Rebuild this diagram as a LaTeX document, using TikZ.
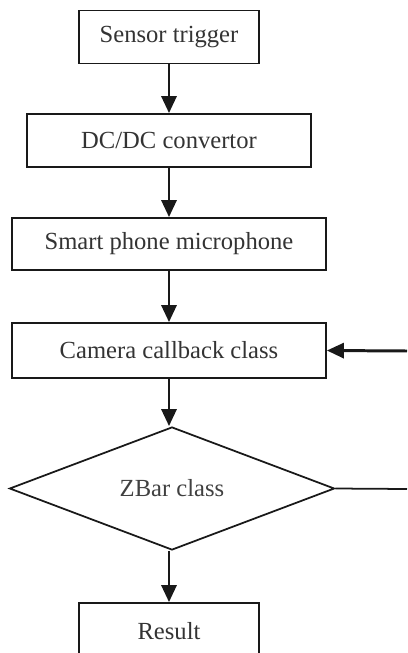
\documentclass[tikz,border=0pt]{standalone}
\usepackage{fontspec}
\setmainfont{Liberation Serif}
\usetikzlibrary{shapes.geometric,arrows.meta}
\tikzset{
	blk/.style={draw=black!90,line width=1pt,minimum height=53*0.02cm,inner sep=0pt,text=black!80,font=\fontsize{14}{16}\selectfont},
	dec/.style={draw=black!90,line width=1pt,diamond,inner sep=0pt,text=black!75,font=\fontsize{14}{16}\selectfont},
	flow/.style={->,line width=1.7pt,black!90}
}
\begin{document}
\begin{tikzpicture}[>={Triangle[length=0.34cm,width=0.3cm]},x=0.02cm,y=-0.02cm]
	\useasboundingbox (0,0) rectangle (407,653);
	\clip (0,0) rectangle (407,653);
	% boxes
	\node[blk,minimum width=180*0.02cm] (st) at (169,37) {Sensor trigger};
	\node[blk,minimum width=284*0.02cm] (dc) at (169,140.5) {DC/DC convertor};
	\node[blk,minimum width=314*0.02cm,minimum height=52*0.02cm] (sp) at (169,244) {Smart phone microphone};
	\node[blk,minimum width=314*0.02cm,minimum height=55*0.02cm] (cc) at (169,350.5) {Camera callback class};
	\node[dec,minimum width=325*0.02cm,minimum height=123*0.02cm] (zb) at (172,488.5) {ZBar class};
	\node[blk,minimum width=180*0.02cm,minimum height=56*0.02cm] (res) at (169,631) {Result};
	% loop back from the right
	\coordinate (inR) at (407,351);
	\coordinate (outR) at (407,489);
	% arrows
	\draw[flow] (st) -- (dc);
	\draw[flow] (dc) -- (sp);
	\draw[flow] (sp) -- (cc);
	\draw[flow] (cc.south) -- (cc.south|-zb.north);
	\draw[flow] (inR) -- (cc.east);
	\draw[line width=1pt,black!90] (zb.east) -- (outR);
	\draw[flow] (zb.south-|res.north) -- (res.north);
\end{tikzpicture}
\end{document}
